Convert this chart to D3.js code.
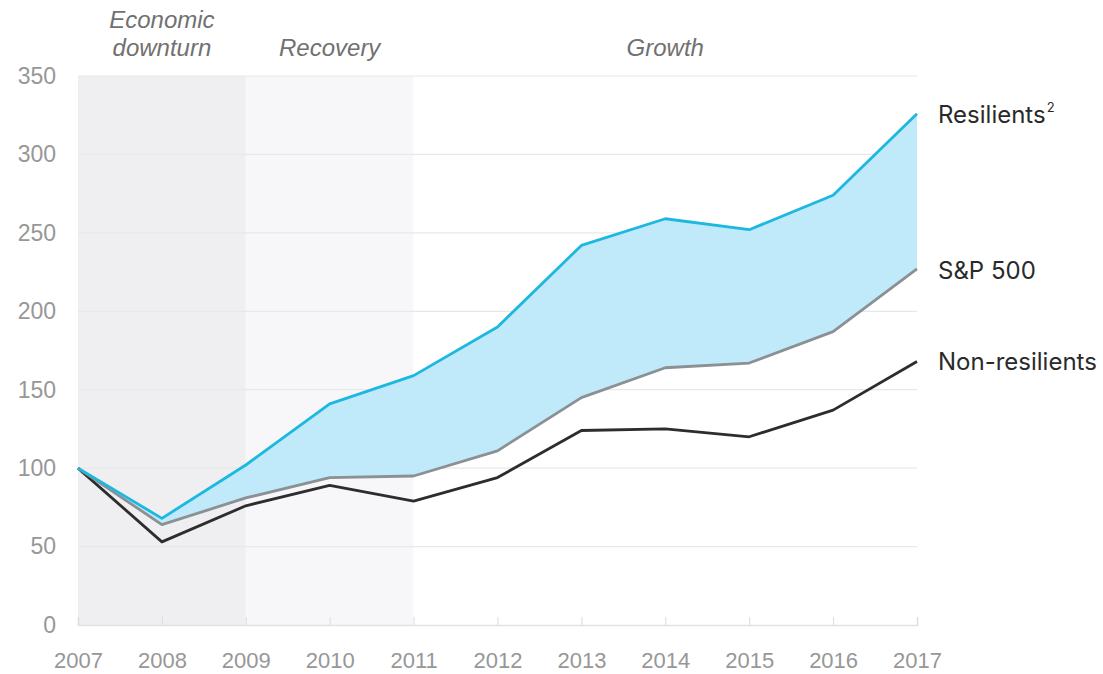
<!DOCTYPE html>
<html>
<head>
<meta charset="utf-8">
<script src="https://cdn.jsdelivr.net/npm/d3@7"></script>
<style>
  body { margin: 0; background: #fff; }
  .tick text { font-family: "Liberation Sans", Arial, sans-serif; fill: #979797; }
  .phase { font-family: "Liberation Sans", Arial, sans-serif; font-style: italic; fill: #717171; font-size: 24px; }
  .endLabel { font-family: Inter, "Open Sans", sans-serif; fill: #2a2a2a; font-size: 24px; }
</style>
</head>
<body>
<div id="chart"></div>
<script>
// Data
var years = [2007, 2008, 2009, 2010, 2011, 2012, 2013, 2014, 2015, 2016, 2017];
var resilients = [100, 68, 102, 141, 159, 190, 242, 259, 252, 274, 326];
var sp500 = [100, 64, 81, 94, 95, 111, 145, 164, 167, 187, 227];
var nonResilients = [100, 53, 76, 89, 79, 94, 124, 125, 120, 137, 168];
var yTicks = [0, 50, 100, 150, 200, 250, 300, 350];
var phases = [
  { start: 2007, end: 2009, lines: ["Economic", "downturn"], fill: "#efeff1" },
  { start: 2009, end: 2011, lines: ["Recovery"], fill: "#f7f7f9" },
  { start: 2011, end: 2017, lines: ["Growth"], fill: "#ffffff" }
];

var svgWidth = 1103;
var svgHeight = 674;

var margin = { top: 76, right: 186, bottom: 49, left: 78 };
var width = svgWidth - margin.left - margin.right;
var height = svgHeight - margin.top - margin.bottom;

var svg = d3.select("#chart")
  .append("svg")
  .attr("width", svgWidth)
  .attr("height", svgHeight);

var chartGroup = svg.append("g")
  .attr("transform", `translate(${margin.left}, ${margin.top})`);

var xScale = d3.scaleLinear()
  .domain([2007, 2017])
  .range([0, width]);

var yScale = d3.scaleLinear()
  .domain([0, 350])
  .range([height, 0]);

// phase bands
chartGroup.selectAll(".band")
  .data(phases)
  .enter()
  .append("rect")
  .attr("class", "band")
  .attr("x", d => xScale(d.start))
  .attr("y", 0)
  .attr("width", d => xScale(d.end) - xScale(d.start))
  .attr("height", height)
  .attr("fill", d => d.fill);

// phase labels (baseline of last line sits 20px above the plot)
phases.forEach(function(p) {
  var cx = (xScale(p.start) + xScale(p.end)) / 2;
  var t = chartGroup.append("text")
    .attr("class", "phase")
    .attr("text-anchor", "middle")
    .attr("x", cx)
    .attr("y", -20 - (p.lines.length - 1) * 28);
  p.lines.forEach(function(line, i) {
    t.append("tspan")
      .attr("x", cx)
      .attr("dy", i === 0 ? 0 : 28)
      .text(line);
  });
});

// gridlines
chartGroup.selectAll(".grid")
  .data(yTicks.filter(d => d > 0))
  .enter()
  .append("line")
  .attr("class", "grid")
  .attr("x1", 0)
  .attr("x2", width)
  .attr("y1", d => yScale(d))
  .attr("y2", d => yScale(d))
  .attr("stroke", "#e8e8e8")
  .attr("stroke-width", 1.2);

// axes
var leftAxis = d3.axisLeft(yScale)
  .tickValues(yTicks)
  .tickSize(0)
  .tickPadding(22);

var bottomAxis = d3.axisBottom(xScale)
  .tickValues(years)
  .tickFormat(d3.format("d"))
  .tickSize(-8)
  .tickPadding(27);

var yAxis = chartGroup.append("g")
  .call(leftAxis);
yAxis.select(".domain").remove();
yAxis.selectAll("text").attr("font-size", 23);

var xAxis = chartGroup.append("g")
  .attr("transform", `translate(0, ${height})`)
  .call(bottomAxis);
xAxis.select(".domain").attr("stroke", "#e2e2e2").attr("stroke-width", 1.5);
xAxis.selectAll("line").attr("stroke", "#dcdcdc");
xAxis.selectAll("text").attr("font-size", 22);

// shaded area between resilients and S&P 500
var area = d3.area()
  .x((d, i) => xScale(years[i]))
  .y0((d, i) => yScale(sp500[i]))
  .y1(d => yScale(d));

chartGroup.append("path")
  .datum(resilients)
  .attr("d", area)
  .attr("fill", "#c0e9f9");

var line = d3.line()
  .x((d, i) => xScale(years[i]))
  .y(d => yScale(d));

var series = [
  { name: "Non-resilients", values: nonResilients, color: "#2d2d2f", labelY: 370 },
  { name: "S&P 500", values: sp500, color: "#8b9094", labelY: 279 },
  { name: "Resilients", values: resilients, color: "#1db8e0", labelY: 123, sup: "2" }
];

chartGroup.selectAll(".series")
  .data(series)
  .enter()
  .append("path")
  .attr("class", "series")
  .attr("d", d => line(d.values))
  .attr("fill", "none")
  .attr("stroke", d => d.color)
  .attr("stroke-width", 2.8)
  .attr("stroke-linejoin", "round");

// end labels
series.forEach(function(s) {
  var t = svg.append("text")
    .attr("class", "endLabel")
    .attr("x", 938)
    .attr("y", s.labelY)
    .text(s.name);
  if (s.sup) {
    t.append("tspan")
      .attr("font-size", 13)
      .attr("dx", 1)
      .attr("dy", -11)
      .text(s.sup);
  }
});
</script>
</body>
</html>
